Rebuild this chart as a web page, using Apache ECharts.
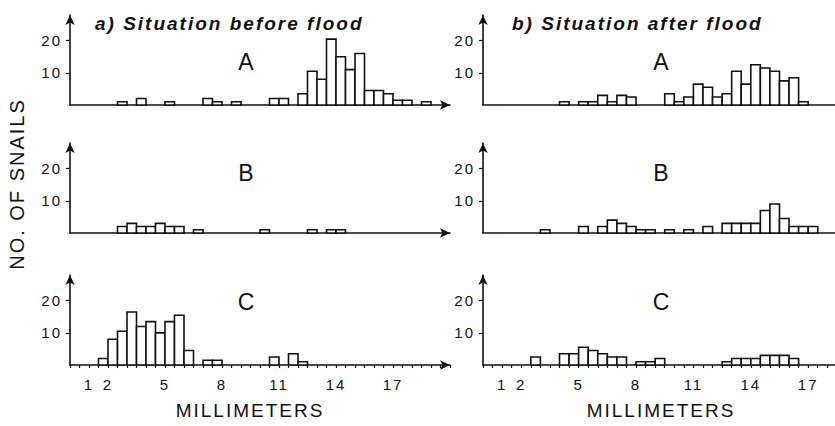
<!DOCTYPE html>
<html>
<head>
<meta charset="utf-8">
<title>Snail sizes before and after flood</title>
<script src="https://cdn.jsdelivr.net/npm/echarts@6/dist/echarts.min.js"></script>
<style>
  html, body { margin: 0; padding: 0; background: #fff; }
  #main { width: 835px; height: 426px; }
  /* the printed figure uses widely spaced lettering */
  #main text { letter-spacing: 2px; }
</style>
</head>
<body>
<div id="main"></div>
<script>
// width of one size class, mm
var BIN = 0.5;

// [start of size class (mm), no. of snails]
var beforeA = [[2.5, 1], [3.5, 2], [5, 1], [7, 2], [7.5, 1], [8.5, 1], [10.5, 2], [11, 2], [12, 3.5],
  [12.5, 10.5], [13, 8], [13.5, 20.5], [14, 15], [14.5, 11], [15, 16], [15.5, 4.5], [16, 4.5],
  [16.5, 3.5], [17, 1.5], [17.5, 1.5], [18.5, 1]];
var beforeB = [[2.5, 2], [3, 3], [3.5, 2], [4, 2], [4.5, 3], [5, 2], [5.5, 2], [6.5, 1],
  [10, 1], [12.5, 1], [13.5, 1], [14, 1]];
var beforeC = [[1.5, 2], [2, 8], [2.5, 10.5], [3, 16.5], [3.5, 12], [4, 13.5], [4.5, 10],
  [5, 13.5], [5.5, 15.5], [6, 4.5], [7, 1.5], [7.5, 1.5], [10.5, 2.5], [11.5, 3.5], [12, 1]];

var afterA = [[4, 1], [5, 1], [5.5, 1], [6, 3], [6.5, 1], [7, 3], [7.5, 2.5], [9.5, 3.5],
  [10, 1], [10.5, 2.5], [11, 6.5], [11.5, 5.5], [12, 2.5], [12.5, 3.5], [13, 10.5], [13.5, 6.5],
  [14, 12.5], [14.5, 11.5], [15, 10.5], [15.5, 7.5], [16, 8.5], [16.5, 1]];
var afterB = [[3, 1], [5, 2], [6, 2], [6.5, 4], [7, 3], [7.5, 2], [8, 1], [8.5, 1], [9.5, 1],
  [10.5, 1], [11.5, 2], [12.5, 3], [13, 3], [13.5, 3], [14, 3], [14.5, 7], [15, 9], [15.5, 4.5],
  [16, 2], [16.5, 2], [17, 2]];
var afterC = [[2.5, 2.5], [4, 3.5], [4.5, 3.5], [5, 5.5], [5.5, 4.5], [6, 3.5], [6.5, 2.5],
  [7, 2.5], [8, 1], [8.5, 1], [9, 2], [12.5, 1], [13, 2], [13.5, 2], [14, 2], [14.5, 3],
  [15, 3], [15.5, 3], [16, 2]];

var xLabels = [1, 2, 5, 8, 11, 14, 17];
var yTicks = [10, 20];
var rowNames = ['A', 'B', 'C'];
var titles = ['a) Situation before flood', 'b) Situation after flood'];

var columns = [
  { data: [beforeA, beforeB, beforeC], left: 70, width: 380, max: 20, letterX: 247, nameX: 250, titleX: 95 },
  { data: [afterA, afterB, afterC], left: 483, width: 373, max: 19.5, letterX: 662, nameX: 661, titleX: 512 }
];
var baselines = [105, 233, 365];
var letterY = [62, 173, 302];
var plotH = 90;
var ink = '#111';
var font = '"Liberation Sans", Arial, sans-serif';

function renderBin(params, api) {
  var start = api.value(0);
  var base = api.coord([start, 0]);
  var top = api.coord([start + BIN, api.value(1)]);
  return {
    type: 'rect',
    shape: { x: base[0], y: top[1], width: top[0] - base[0], height: base[1] - top[1] },
    style: { fill: '#fff', stroke: ink, lineWidth: 1.6 }
  };
}

var grid = [], xAxis = [], yAxis = [], series = [], graphic = [];

columns.forEach(function (col, c) {
  col.data.forEach(function (bins, r) {
    var i = grid.length;
    var bottomRow = r === 2;
    grid.push({
      left: col.left, top: baselines[r] - plotH, width: col.width, height: plotH,
      outerBoundsMode: 'none'
    });
    xAxis.push({
      type: 'value', gridIndex: i, min: 0, max: col.max, interval: BIN,
      splitLine: { show: false },
      axisLine: { symbol: ['none', 'arrow'], symbolSize: [7, 10], lineStyle: { color: ink, width: 1.6 } },
      axisTick: { show: bottomRow, length: 3, lineStyle: { color: ink, width: 1.2 } },
      axisLabel: {
        show: bottomRow, margin: 12, color: ink, fontSize: 15, fontFamily: font,
        formatter: function (v) { return xLabels.indexOf(v) >= 0 ? String(v) : ''; }
      }
    });
    yAxis.push({
      type: 'value', gridIndex: i, min: 0, max: 28,
      splitLine: { show: false },
      axisLine: { symbol: ['none', 'arrow'], symbolSize: [7, 10], lineStyle: { color: ink, width: 1.6 } },
      axisTick: { customValues: yTicks, length: 4, lineStyle: { color: ink, width: 1.2 } },
      axisLabel: { customValues: yTicks, margin: 8, color: ink, fontSize: 15, fontFamily: font }
    });
    series.push({
      type: 'custom', xAxisIndex: i, yAxisIndex: i,
      renderItem: renderBin, data: bins, silent: true
    });
    graphic.push({
      type: 'text', x: col.letterX, y: letterY[r],
      style: { text: rowNames[r], font: '23px ' + font, fill: ink, textAlign: 'center', textVerticalAlign: 'middle' }
    });
  });

  graphic.push({
    type: 'text', x: col.titleX, y: 23,
    style: { text: titles[c], font: 'italic bold 19px ' + font, fill: ink, textAlign: 'left', textVerticalAlign: 'middle' }
  });
  graphic.push({
    type: 'text', x: col.nameX, y: 410,
    style: { text: 'MILLIMETERS', font: '19px ' + font, fill: ink, textAlign: 'center', textVerticalAlign: 'middle' }
  });
});

graphic.push({
  type: 'text', x: 17, y: 184, rotation: Math.PI / 2,
  style: { text: 'NO. OF SNAILS', font: '20px ' + font, fill: ink, textAlign: 'center', textVerticalAlign: 'middle' }
});

var myChart = echarts.init(document.getElementById('main'), null, { renderer: 'svg' });
myChart.setOption({
  backgroundColor: '#fff',
  animation: false,
  grid: grid,
  xAxis: xAxis,
  yAxis: yAxis,
  series: series,
  graphic: graphic
});
</script>
</body>
</html>
